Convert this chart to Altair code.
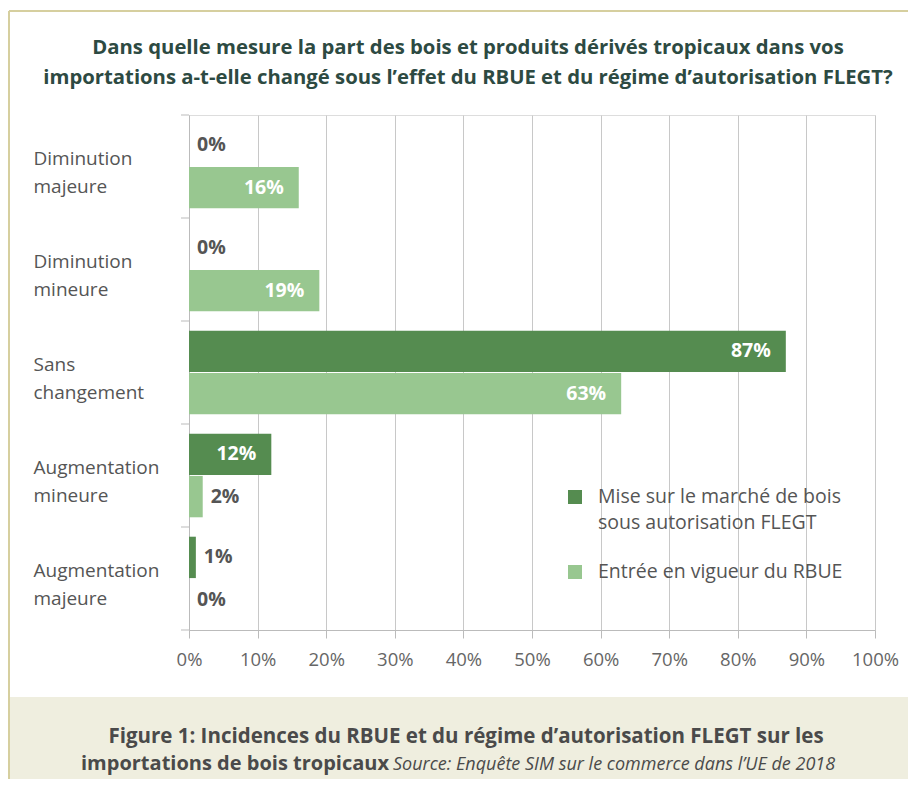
import altair as alt
import pandas as pd

categories = ["Diminution majeure", "Diminution mineure", "Sans changement",
              "Augmentation mineure", "Augmentation majeure"]
series = ["Mise sur le marché de bois sous autorisation FLEGT", "Entrée en vigueur du RBUE"]
legend_lines = [["Mise sur le marché de bois", "sous autorisation FLEGT"], ["Entrée en vigueur du RBUE"]]
flegt_values = [0, 0, 87, 12, 1]
rbue_values = [16, 19, 63, 2, 0]
x_ticks = [0, 10, 20, 30, 40, 50, 60, 70, 80, 90, 100]
colors = ["#558c50", "#98c790"]

title_lines = ["Dans quelle mesure la part des bois et produits dérivés tropicaux dans vos",
               "importations a-t-elle changé sous l’effet du RBUE et du régime d’autorisation FLEGT?"]
caption_line1 = "Figure 1: Incidences du RBUE et du régime d’autorisation FLEGT sur les"
caption_line2_bold = "importations de bois tropicaux"
caption_line2_italic = "Source: Enquête SIM sur le commerce dans l’UE de 2018"

rows = []
for c, a, b in zip(categories, flegt_values, rbue_values):
    rows.append({"cat": c, "serie": series[0], "val": a})
    rows.append({"cat": c, "serie": series[1], "val": b})
df = pd.DataFrame(rows)

FONT = "Open Sans"
W, H = 686, 515

base = alt.Chart(df).transform_calculate(label="datum.val + '%'")

y_enc = alt.Y("cat:N", sort=categories, title=None,
              scale=alt.Scale(paddingInner=0, paddingOuter=0),
              axis=alt.Axis(ticks=False, labelAlign="left", labelPadding=156,
                            labelExpr="split(datum.label, ' ')", labelLineHeight=28,
                            labelFontSize=19, labelColor="#555555", labelFont=FONT,
                            labelBaseline="middle", labelOffset=-8,
                            domainColor="#bbbbbb", grid=False))
yoff = alt.YOffset("serie:N", sort=series,
                   scale=alt.Scale(paddingInner=0.02, paddingOuter=0.23))

x_enc = alt.X("val:Q", title=None, scale=alt.Scale(domain=[0, 100]),
              axis=alt.Axis(values=x_ticks, labelExpr="datum.value + '%'",
                            labelFontSize=18.5, labelColor="#666666", labelFont=FONT,
                            labelPadding=12, tickSize=8, tickColor="#bbbbbb",
                            labelFlush=False, labelOverlap=False,
                            domainColor="#bbbbbb", grid=True, gridColor="#c8c8c8"))

bars = base.mark_bar().encode(
    x=x_enc, y=y_enc, yOffset=yoff,
    color=alt.Color("serie:N", sort=series,
                    scale=alt.Scale(domain=series, range=colors), legend=None)
)

inside = base.transform_filter("datum.val >= 10").mark_text(
    align="right", baseline="middle", dx=-15, fontSize=19.5, fontWeight="bold",
    color="white", font=FONT
).encode(x="val:Q", y=alt.Y("cat:N", sort=categories), yOffset=yoff, text="label:N")

outside = base.transform_filter("datum.val < 10").mark_text(
    align="left", baseline="middle", dx=8, fontSize=19.5, fontWeight="bold",
    color="#555555", font=FONT
).encode(x="val:Q", y=alt.Y("cat:N", sort=categories), yOffset=yoff, text="label:N")

# y axis band-boundary ticks
ytick = alt.Chart(pd.DataFrame({"cat": categories})).mark_rule(color="#bbbbbb").encode(
    y=alt.Y("cat:N", sort=categories, bandPosition=0), x=alt.value(-8), x2=alt.value(0))
ytick_end = alt.Chart(pd.DataFrame({"k": [0]})).mark_rule(color="#bbbbbb").encode(
    y=alt.value(H), x=alt.value(-8), x2=alt.value(0))

one = pd.DataFrame({"k": [0]})

# legend (manual, to match the original line spacing)
legend_layers = []
for i, (lines, col) in enumerate(zip(legend_lines, colors)):
    ly = 382 + 75 * i
    legend_layers.append(alt.Chart(one).mark_square(size=196, color=col, opacity=1).encode(
        x=alt.value(386), y=alt.value(ly)))
    legend_layers.append(alt.Chart(one).mark_text(
        text=lines, fontSize=19.5, color="#555555", font=FONT, align="left",
        baseline="middle", lineHeight=26).encode(x=alt.value(409), y=alt.value(ly)))

caption_bg = alt.Chart(one).mark_rect(color="#efeedf").encode(
    x=alt.value(-180), x2=alt.value(W + 33), y=alt.value(582), y2=alt.value(H + 149))
border_left = alt.Chart(one).mark_rule(color="#d6cf9f", strokeWidth=2).encode(
    x=alt.value(-180), y=alt.value(-104), y2=alt.value(H + 149))
border_top = alt.Chart(one).mark_rule(color="#d6cf9f", strokeWidth=2).encode(
    x=alt.value(-180), x2=alt.value(W + 33), y=alt.value(-104))

t1 = alt.Chart(one).mark_text(text=title_lines[0], fontSize=20.3, fontWeight="bold",
                              color="#2d4a42", font=FONT, align="center", baseline="middle").encode(
    x=alt.value(279), y=alt.value(-67))
t2 = alt.Chart(one).mark_text(text=title_lines[1], fontSize=20.3, fontWeight="bold",
                              color="#2d4a42", font=FONT, align="center", baseline="middle").encode(
    x=alt.value(279), y=alt.value(-37))

c1 = alt.Chart(one).mark_text(text=caption_line1, fontSize=20.5, fontWeight="bold",
                              color="#4a4a4a", font=FONT, align="center", baseline="middle").encode(
    x=alt.value(277), y=alt.value(622))
c2a = alt.Chart(one).mark_text(text=caption_line2_bold, fontSize=20, fontWeight="bold",
                               color="#4a4a4a", font=FONT, align="right", baseline="middle").encode(
    x=alt.value(200), y=alt.value(649))
c2b = alt.Chart(one).mark_text(text=caption_line2_italic, fontSize=18, fontStyle="italic",
                               color="#4a4a4a", font=FONT, align="left", baseline="middle").encode(
    x=alt.value(204), y=alt.value(650))

chart = alt.layer(caption_bg, border_left, border_top, bars, inside, outside, ytick, ytick_end,
                  *legend_layers, t1, t2, c1, c2a, c2b).properties(
    width=W, height=H,
    autosize=alt.AutoSizeParams(type="none"),
    padding={"left": 181, "top": 107, "right": 33, "bottom": 149},
).configure_view(stroke=None).configure(background="white")

chart.save("out.html", embed_options={"renderer": "svg", "actions": False})
